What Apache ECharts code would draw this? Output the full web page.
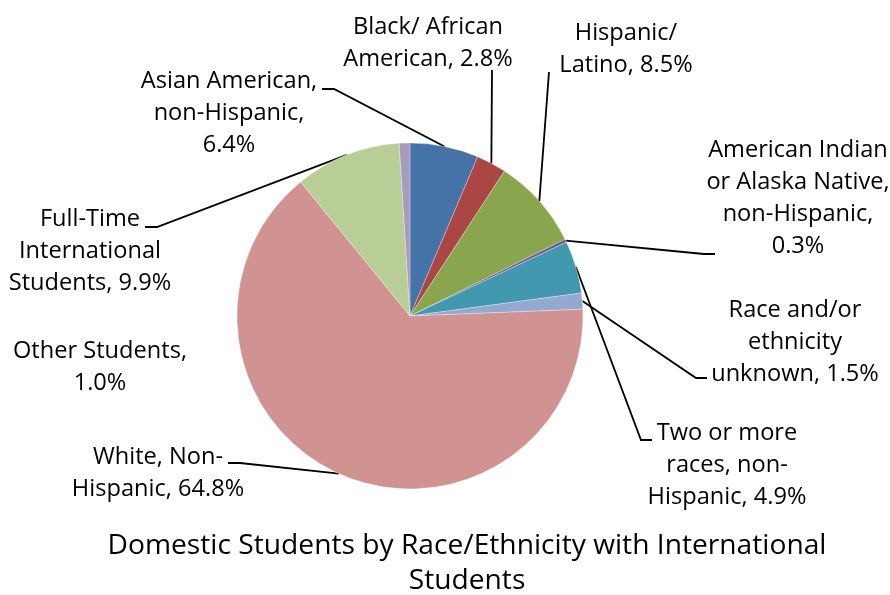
<!DOCTYPE html>
<html>
<head>
<meta charset="utf-8">
<script src="https://cdn.jsdelivr.net/npm/echarts@6/dist/echarts.min.js"></script>
<style>html,body{margin:0;padding:0;background:#fff}#c{width:890px;height:595px}</style>
</head>
<body>
<div id="c"></div>
<script>
// Data
const categories = [
  "Asian American, non-Hispanic",
  "Black/ African American",
  "Hispanic/ Latino",
  "American Indian or Alaska Native, non-Hispanic",
  "Two or more races, non-Hispanic",
  "Race and/or ethnicity unknown",
  "White, Non-Hispanic",
  "Full-Time International Students",
  "Other Students"
];
const values = [6.4, 2.8, 8.5, 0.3, 4.9, 1.5, 64.8, 9.9, 1.0];
const labelNames = [
  "Asian American,\nnon-Hispanic,",
  "Black/ African\nAmerican,",
  "Hispanic/\nLatino,",
  "American Indian\nor Alaska Native,\nnon-Hispanic,",
  "Two or more\nraces, non-\nHispanic,",
  "Race and/or\nethnicity\nunknown,",
  "White, Non-\nHispanic,",
  "Full-Time\nInternational\nStudents,",
  "Other Students,"
];
const valueSep = ["\n", " ", " ", "\n", " ", " ", " ", " ", "\n"];
const colors = ["#4572A7", "#AA4643", "#89A54E", "#71588F", "#4198AF", "#93A9CF", "#D19392", "#B9CD96", "#A99BBD"];
// label placement (style)
const labelPos = [[229,113],[428,43],[626,49],[798,198],[727,465],[795,342],[158,473],[90,251],[100,367]];
// leader line ends near label: [elbow, end]
const leaderEnds = [
  [[334,89],[322,89]],
  [[492,70],[492,70]],
  [[549,72],[549,72]],
  [[704,254],[715,254]],
  [[641,440],[652,440]],
  [[696,378],[707,378]],
  [[240,463],[228,463]],
  [[157,227],[145,227]],
  null
];
const titleText = "Domestic Students by Race/Ethnicity with International\nStudents";

const chart = echarts.init(document.getElementById('c'));
const data = categories.map((n, i) => ({
  name: n,
  value: values[i],
  itemStyle: { color: colors[i] },
  labelLine: { show: i !== 8 }
}));
chart.setOption({
  animation: false,
  title: {
    text: titleText,
    left: 462,
    textAlign: 'center',
    top: 523,
    textStyle: { fontFamily: 'Open Sans', fontSize: 28.2, fontWeight: 'normal', color: '#000', lineHeight: 35 }
  },
  series: [{
    type: 'pie',
    center: [410, 316],
    radius: 173,
    startAngle: 90,
    clockwise: true,
    avoidLabelOverlap: false,
    data: data,
    itemStyle: { borderColor: '#fff', borderWidth: 0.3 },
    label: {
      show: true,
      position: 'outside',
      color: '#000',
      fontFamily: 'Open Sans',
      fontSize: 23.6,
      lineHeight: 32,
      align: 'center',
      formatter: p => labelNames[p.dataIndex] + valueSep[p.dataIndex] + p.value.toFixed(1) + '%'
    },
    labelLine: { show: true, lineStyle: { color: '#000', width: 1.8 }, length: 0, length2: 0 },
    labelLayout: function (params) {
      const i = params.dataIndex;
      const p = labelPos[i];
      const out = { x: p[0], y: p[1], align: 'center', verticalAlign: 'middle' };
      const ends = leaderEnds[i];
      if (ends && params.labelLinePoints && params.labelLinePoints.length) {
        const a = params.labelLinePoints[0];
        out.labelLinePoints = [[a[0], a[1]], ends[0], ends[1]];
      }
      return out;
    }
  }]
});
</script>
</body>
</html>
